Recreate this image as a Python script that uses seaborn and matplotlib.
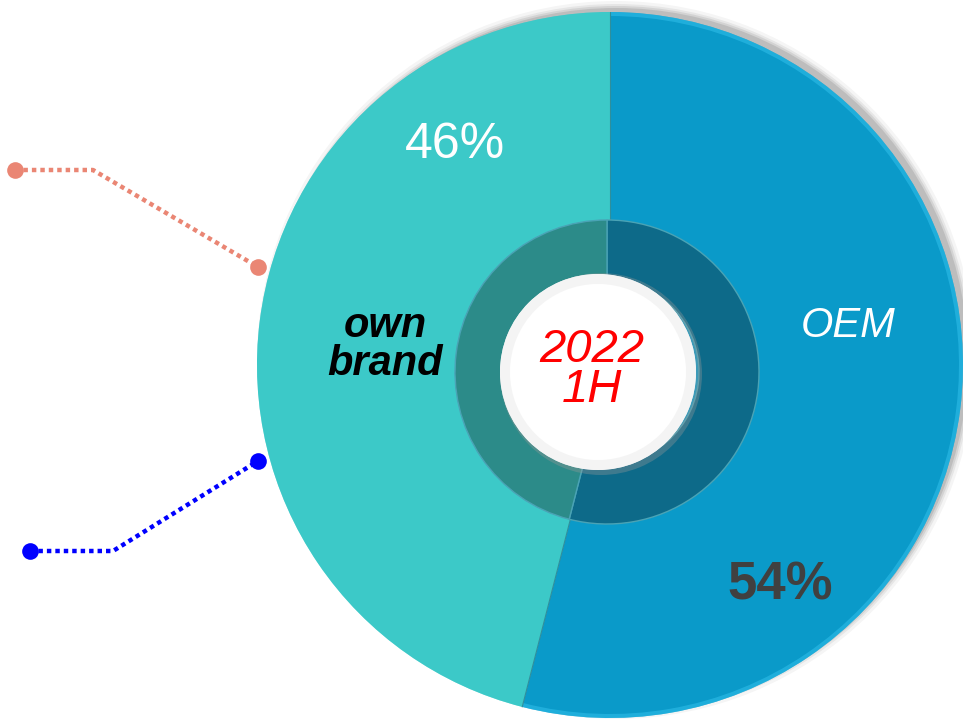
import matplotlib
matplotlib.use("Agg")
import matplotlib.pyplot as plt
import seaborn as sns
import numpy as np

sns.set_theme(style="white")
plt.rcParams['font.family'] = ['Liberation Sans', 'DejaVu Sans']

# ---- data ----
segments = ["OEM", "own brand"]
shares = [54, 46]
share_labels = ["54%", "46%"]
center_label = "2022\n1H"
outer_colors = ["#0A9AC9", "#3CC9C8"]
rim_colors = ["#35C3EE", "#3CC9C8"]
inner_colors = ["#0D6A89", "#2C8B89"]

# leader lines (pixel coordinates, y from top)
leader_salmon_x = [15, 93, 258]
leader_salmon_y = [170, 170, 267]
leader_blue_x = [30, 113, 258]
leader_blue_y = [551, 551, 461]

W, H = 963, 721
CX, CY, R = 610, H - 365, 353

fig = plt.figure(figsize=(W / 100, H / 100), dpi=100)
ax = fig.add_axes([0, 0, 1, 1])

# soft drop shadow (towards upper right)
for k, a in zip([9, 6, 4, 2], [0.04, 0.06, 0.08, 0.10]):
    ax.pie([1], colors=["#000000"], radius=R + k - 3, center=(CX + 6, CY + 5),
           wedgeprops=dict(alpha=a, linewidth=0), frame=True)

# outer pie
ax.pie(shares, colors=outer_colors, startangle=90, counterclock=False,
       radius=R, center=(CX, CY), frame=True,
       wedgeprops=dict(linewidth=0))
# light rim
ax.pie(shares, colors=rim_colors, startangle=90, counterclock=False,
       radius=R, center=(CX, CY), frame=True,
       wedgeprops=dict(width=4, linewidth=0, alpha=0.5))

# slice dividers (radial lines derived from the shares)
bounds = 90 - 360 * np.concatenate([[0], np.cumsum(shares)]) / np.sum(shares)
for ang in np.deg2rad(bounds[:-1]):
    ax.plot([CX, CX + R * np.cos(ang)], [CY, CY + R * np.sin(ang)],
            color="#2f8f9c", lw=0.8, zorder=1)

# inner darker ring
ax.pie(shares, colors=inner_colors, startangle=90, counterclock=False,
       radius=152, center=(CX - 3, CY - 7), frame=True,
       wedgeprops=dict(width=60, edgecolor="#4aa3b5", linewidth=1.0))

# white center disc with faint shadow
ax.pie([1], colors=["#9a9a9a"], radius=101, center=(CX - 9, CY - 9),
       wedgeprops=dict(alpha=0.35, linewidth=0), frame=True)
ax.pie([1], colors=["#FFFFFF"], radius=98, center=(CX - 12, CY - 7),
       wedgeprops=dict(linewidth=0), frame=True)
ax.pie([1], colors=["#F2F2F2"], radius=98, center=(CX - 12, CY - 7),
       wedgeprops=dict(width=10, linewidth=0, alpha=0.8), frame=True)

# leader lines
for xs, ys, col in [(leader_salmon_x, leader_salmon_y, "#EA8674"),
                    (leader_blue_x, leader_blue_y, "#0000FF")]:
    yy = [H - y for y in ys]
    ax.plot(xs, yy, color=col, lw=3.2, ls=(0, (1, 0.9)),
            solid_capstyle="butt")
    ax.plot([xs[0], xs[-1]], [yy[0], yy[-1]], ls="none", marker="o",
            ms=12, color=col, markeredgewidth=0)

# texts
ax.text(455, H - 145, share_labels[1], color="white", fontsize=36,
        ha="center", va="center")
ax.text(780, H - 586, share_labels[0], color="#404040", fontsize=38,
        fontweight="bold", ha="center", va="center")
ax.text(848, H - 326, segments[0], color="white", fontsize=30,
        fontstyle="italic", ha="center", va="center")
ax.text(385, H - 345, "own\nbrand", color="black", fontsize=30,
        fontstyle="italic", fontweight="bold", ha="center", va="center",
        linespacing=0.95)
ax.text(592, H - 370, center_label, color="#FF0000", fontsize=34,
        fontstyle="italic", ha="center", va="center", linespacing=0.9)

ax.set_xlim(0, W)
ax.set_ylim(0, H)
ax.set_aspect("auto")
ax.axis("off")

fig.savefig("out.png", dpi=100, facecolor="white")
